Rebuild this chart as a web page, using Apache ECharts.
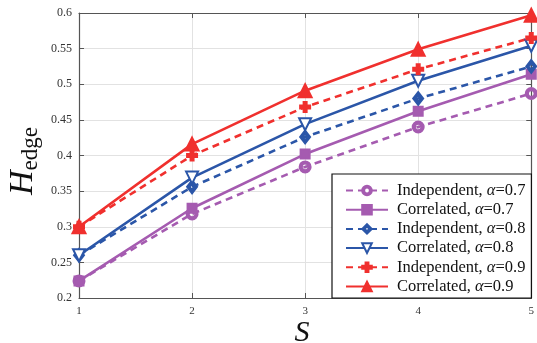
<!DOCTYPE html>
<html><head><meta charset="utf-8">
<script src="https://cdn.jsdelivr.net/npm/echarts@6/dist/echarts.min.js"></script>
<style>html,body{margin:0;padding:0;background:#fff}#c{width:537px;height:343px}</style>
</head><body><div id="c"></div>
<script>
const S = [1, 2, 3, 4, 5];
const indep07 = [0.224, 0.318, 0.384, 0.440, 0.487];
const corr07  = [0.224, 0.326, 0.402, 0.462, 0.514];
const indep08 = [0.260, 0.356, 0.426, 0.480, 0.525];
const corr08  = [0.260, 0.369, 0.444, 0.505, 0.554];
const indep09 = [0.300, 0.400, 0.468, 0.521, 0.565];
const corr09  = [0.300, 0.416, 0.491, 0.549, 0.597];
const names = ['Independent, α=0.7','Correlated, α=0.7','Independent, α=0.8','Correlated, α=0.8','Independent, α=0.9','Correlated, α=0.9'];

const PURPLE = '#a55bb0', BLUE = '#2b56a8', RED = '#f0302e';
const triDown = 'path://M0,0 L10,0 L5,9 Z';
const plus = 'path://M3.5,0H6.5V3.5H10V6.5H6.5V10H3.5V6.5H0V3.5H3.5Z';
const circ = 'path://M5,0A5,5 0 1,1 4.99,0ZM5,2A3,3 0 1,0 5.01,2Z';
const diam = 'path://M5,0L10,6L5,12L0,6ZM5,3L2.5,6L5,9L7.5,6Z';
const serif = '"Liberation Serif", "DejaVu Serif", serif';

function mk(name, vals, color, dashed, symbol, size, fill) {
  return {
    name: name, type: 'line', data: S.map((s, i) => [s, vals[i]]),
    symbol: symbol, symbolSize: size, showAllSymbol: true,
    lineStyle: { color: color, width: 2.6, type: dashed ? [7, 5] : 'solid' },
    itemStyle: { color: fill || color, borderColor: color, borderWidth: 2 },
    emphasis: { disabled: true }, animation: false, z: 3
  };
}

const chart = echarts.init(document.getElementById('c'));
chart.setOption({
  animation: false,
  grid: { left: 79, right: 4, top: 13, bottom: 45 },
  xAxis: [{
    type: 'value', min: 1, max: 5, interval: 1,
    axisLine: { lineStyle: { color: '#555', width: 1.2 } },
    axisTick: { inside: true, length: 5, lineStyle: { color: '#555' } },
    axisLabel: { fontFamily: serif, fontSize: 11, color: '#333', margin: 8 },
    splitLine: { lineStyle: { color: '#e2e2e2' } }
  }, {
    type: 'value', min: 1, max: 5, interval: 1, position: 'top',
    axisLine: { show: true, lineStyle: { color: '#555', width: 1.2 } },
    axisTick: { inside: true, length: 5, lineStyle: { color: '#555' } },
    axisLabel: { show: false }, splitLine: { show: false }
  }],
  yAxis: [{
    type: 'value', min: 0.2, max: 0.6, interval: 0.05,
    axisLine: { show: true, lineStyle: { color: '#555', width: 1.2 } },
    axisTick: { show: true, inside: true, length: 5, lineStyle: { color: '#555' } },
    axisLabel: { fontFamily: serif, fontSize: 12, color: '#333', margin: 7,
      formatter: v => String(+v.toFixed(2)) },
    splitLine: { lineStyle: { color: '#e2e2e2' } }
  }, {
    type: 'value', min: 0.2, max: 0.6, interval: 0.05, position: 'right',
    axisLine: { show: true, lineStyle: { color: '#555', width: 1.2 } },
    axisTick: { show: true, inside: true, length: 5, lineStyle: { color: '#555' } },
    axisLabel: { show: false }, splitLine: { show: false }
  }],
  legend: {
    orient: 'vertical', left: 332, top: 174,
    padding: [8, 6, 3, 13], itemGap: 2.2, itemWidth: 42, itemHeight: 12,
    backgroundColor: '#fff', borderColor: '#111', borderWidth: 1.2,
    data: names,
    formatter: function (n) {
      const p = n.split('α');
      return '{t|' + p[0] + '}{a|α}{t|' + p[1] + '}';
    },
    textStyle: { fontFamily: serif, fontSize: 16.5, color: '#111', lineHeight: 15, padding: [0, 0, 0, 4],
      rich: {
        t: { fontFamily: serif, fontSize: 16.5, color: '#111', lineHeight: 15 },
        a: { fontFamily: serif, fontStyle: 'italic', fontSize: 16.5, color: '#111', lineHeight: 15 }
      } },
    selectedMode: false
  },
  series: [
    mk(names[0], indep07, PURPLE, true, circ, 11),
    mk(names[1], corr07, PURPLE, false, 'rect', 9),
    mk(names[2], indep08, BLUE, true, diam, [10, 13]),
    mk(names[3], corr08, BLUE, false, triDown, 12, '#fff'),
    mk(names[4], indep09, RED, true, plus, 10),
    mk(names[5], corr09, RED, false, 'triangle', 13)
  ],
  graphic: [{
    type: 'text', x: 42, y: 161, rotation: Math.PI / 2, z: 10,
    style: {
      text: '{h|H}{e|edge}', align: 'center', verticalAlign: 'bottom',
      rich: {
        h: { fontFamily: serif, fontStyle: 'italic', fontSize: 34, fill: '#111' },
        e: { fontFamily: serif, fontSize: 23, fill: '#111', padding: [14, 0, 0, 0] }
      }
    }
  }, {
    type: 'text', x: 302, y: 333, z: 10,
    style: { text: 'S', fontFamily: serif, fontStyle: 'italic', fontSize: 30, fill: '#111',
      align: 'center', verticalAlign: 'middle' }
  }]
});
</script></body></html>
